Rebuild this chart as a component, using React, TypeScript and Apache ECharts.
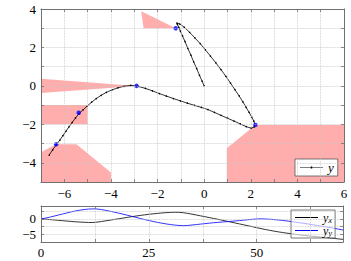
import React, { useEffect, useRef } from 'react';
import * as echarts from 'echarts';

// time steps of the trajectory
const tSteps = [
  0, 1, 2, 3, 4, 5, 6, 7, 8, 9, 10, 11, 12, 13, 14, 15, 16, 17, 18, 19, 20,
  21, 22, 23, 24, 25, 26, 27, 28, 29, 30, 31, 32, 33, 34, 35, 36, 37, 38, 39, 40,
  41, 42, 43, 44, 45, 46, 47, 48, 49, 50, 51, 52, 53, 54, 55, 56, 57, 58, 59, 60,
  61, 62, 63, 64, 65, 66, 67, 68, 69, 70,
];

// y_x component
const yx = [
  0, -0.09, -0.2, -0.32, -0.45, -0.57, -0.7, -0.82, -0.93, -1.02, -1.09, -1.15, -1.17,
  -1.05, -0.85, -0.62, -0.4, -0.17, 0.05, 0.27, 0.5, 0.72, 0.93, 1.13, 1.32, 1.5, 1.66, 1.8, 1.93, 2.04, 2.13, 2.17, 2.15,
  2.02, 1.8, 1.55, 1.28, 1.0, 0.72, 0.44, 0.16, -0.12, -0.42, -0.72, -1.02, -1.32, -1.62, -1.92, -2.22, -2.52, -2.85, -3.15,
  -3.43, -3.7, -3.96, -4.2, -4.42, -4.63, -4.83, -5.02, -5.2, -5.37, -5.52, -5.66, -5.8, -5.93, -6.06, -6.19, -6.35, -6.5, -6.65,
];

// y_y component
const yy = [
  0, 0.25, 0.55, 0.9, 1.25, 1.6, 1.95, 2.3, 2.6, 2.85, 3.05, 3.2, 3.27,
  3.22, 3.05, 2.78, 2.5, 2.2, 1.88, 1.55, 1.2, 0.85, 0.5, 0.15, -0.2, -0.52, -0.83, -1.12, -1.38, -1.62, -1.83, -2.0, -2.13,
  -2.2, -2.12, -1.98, -1.83, -1.68, -1.53, -1.38, -1.23, -1.12, -1.01, -0.9, -0.78, -0.66, -0.53, -0.4, -0.26, -0.13, -0.02, 0.03,
  -0.02, -0.1, -0.21, -0.34, -0.49, -0.66, -0.85, -1.05, -1.25, -1.45, -1.67, -1.9, -2.13, -2.36, -2.59, -2.82, -3.07, -3.33, -3.6,
];

// blue measurement points
const markX = [-1.22, 2.2, -2.9, -5.38, -6.35];
const markY = [3.0, -2.03, 0.0, -1.4, -3.04];

// shaded regions (data coordinates)
const regionTop = [[-2.7, 3.88], [-2.6, 3.0], [-1.22, 3.0]];
const regionWedge = [[-2.9, 0.0], [-7, 0.37], [-7, -0.37]];
const regionRect = [[-7, -1], [-5, -1], [-5, -2], [-7, -2]];
const regionLowLeft = [[-7, -3.45], [-6.35, -3.04], [-5.48, -3.04], [-4, -4.5], [-4, -5], [-7, -5]];
const regionLowRight = [[2.2, -2.03], [6, -2.03], [6, -5], [0.97, -5], [0.97, -3.24]];
const regions = [regionTop, regionWedge, regionRect, regionLowLeft, regionLowRight];

const FONT = 'Liberation Serif';
const fmtNum = (v: number) => String(v).replace('-', '\u2212');

const LINE_ICON = 'path://M0,9 L46,9 L46,11 L0,11 Z';
const LINE_DOT_ICON = 'path://M0,9.4 L46,9.4 L46,10.6 L0,10.6 Z M21.5,8 L24.5,8 L24.5,12 L21.5,12 Z';

export default function App() {
  const ref = useRef<HTMLDivElement>(null);
  useEffect(() => {
    const chart = echarts.init(ref.current!, null, { renderer: 'svg' });
    const axisLine = { show: true, onZero: false, lineStyle: { color: '#707070', width: 1 } };
    const tick = { show: true, inside: true, length: 3, lineStyle: { color: '#707070', width: 0.8 } };
    const split = { show: true, lineStyle: { color: '#c4c4c4', type: 'dotted' as const, width: 0.8 } };
    const label = { color: '#000', fontFamily: FONT, fontSize: 13 };
    const hidden = { show: false };

    chart.setOption({
      animation: false,
      grid: [
        { left: 41, top: 9, width: 303, height: 173 },
        { left: 41, top: 206, width: 302, height: 36 },
      ],
      xAxis: [
        {
          type: 'value', gridIndex: 0, position: 'bottom', min: -7, max: 6, interval: 1,
          axisLine, axisTick: tick, splitLine: split, z: 5,
          axisLabel: { ...label, margin: 5, formatter: (v: number) => (v % 2 === 0 ? fmtNum(v) : '') },
        },
        {
          type: 'value', gridIndex: 0, position: 'top', min: -7, max: 6, interval: 1,
          axisLine, axisTick: tick, splitLine: hidden, axisLabel: hidden, z: 5,
        },
        {
          type: 'value', gridIndex: 1, position: 'bottom', min: 0, max: 70, interval: 12.5,
          axisLine, axisTick: tick, splitLine: split, z: 5,
          axisLabel: { ...label, margin: 4, formatter: (v: number) => (v % 25 === 0 ? fmtNum(v) : '') },
        },
        {
          type: 'value', gridIndex: 1, position: 'top', min: 0, max: 70, interval: 12.5,
          axisLine, axisTick: tick, splitLine: hidden, axisLabel: hidden, z: 5,
        },
      ],
      yAxis: [
        {
          type: 'value', gridIndex: 0, position: 'left', min: -5, max: 4, interval: 1,
          axisLine, axisTick: tick, splitLine: split, z: 5,
          axisLabel: { ...label, margin: 5, formatter: (v: number) => (v % 2 === 0 ? fmtNum(v) : '') },
        },
        {
          type: 'value', gridIndex: 0, position: 'right', min: -5, max: 4, interval: 1,
          axisLine, axisTick: tick, splitLine: hidden, axisLabel: hidden, z: 5,
        },
        {
          type: 'value', gridIndex: 1, position: 'left', min: -7.5, max: 4.2, interval: 2.5,
          axisLine, axisTick: tick, splitLine: split, z: 5,
          axisLabel: { ...label, margin: 5, formatter: (v: number) => (v % 5 === 0 ? fmtNum(v) : '') },
        },
        {
          type: 'value', gridIndex: 1, position: 'right', min: -7.5, max: 4.2, interval: 2.5,
          axisLine, axisTick: tick, splitLine: hidden, axisLabel: hidden, z: 5,
        },
      ],
      legend: [
        {
          data: [{ name: 'y', icon: LINE_DOT_ICON }], left: 295, top: 159, orient: 'horizontal',
          padding: [2, 4, 2, 5], itemWidth: 23, itemHeight: 10, itemGap: 0,
          borderColor: '#555', borderWidth: 0.8, borderRadius: 0, backgroundColor: '#fff',
          textStyle: { fontFamily: FONT, fontStyle: 'italic', fontSize: 13, color: '#000', lineHeight: 13 },
        },
        {
          data: [{ name: 'y_x', icon: LINE_ICON }, { name: 'y_y', icon: LINE_ICON }],
          left: 291, top: 210, orient: 'vertical',
          padding: [1, 3, 1, 4], itemWidth: 23, itemHeight: 10, itemGap: 0,
          borderColor: '#555', borderWidth: 0.8, borderRadius: 0,
          backgroundColor: 'rgba(255,255,255,0.6)',
          formatter: (n: string) => (n === 'y_x' ? '{a|y}{b|x}' : '{a|y}{b|y}'),
          textStyle: {
            color: '#000',
            rich: {
              a: { fontFamily: FONT, fontStyle: 'italic', fontSize: 12, color: '#000', lineHeight: 12 },
              b: { fontFamily: FONT, fontStyle: 'italic', fontSize: 8.5, color: '#000', lineHeight: 8, padding: [4, 0, 0, 0] },
            },
          },
        },
      ],
      series: [
        {
          name: 'regions',
          type: 'custom',
          xAxisIndex: 0,
          yAxisIndex: 0,
          silent: true,
          clip: true,
          z: 1,
          data: regions.map((r) => r[0]),
          renderItem: (params: any, api: any) => {
            const pts = regions[params.dataIndex].map((p) => api.coord(p));
            return {
              type: 'polygon',
              shape: { points: pts },
              style: { fill: 'rgba(255,0,0,0.32)', stroke: 'none' },
            };
          },
        },
        {
          name: 'y',
          type: 'line',
          xAxisIndex: 0,
          yAxisIndex: 0,
          data: yx.map((v, i) => [v, yy[i]]),
          color: '#000',
          lineStyle: { color: '#000', width: 0.8 },
          symbol: 'circle',
          symbolSize: 1.5,
          showSymbol: true,
          itemStyle: { color: '#000' },
          z: 3,
        },
        {
          name: 'marks',
          type: 'scatter',
          xAxisIndex: 0,
          yAxisIndex: 0,
          data: markX.map((v, i) => [v, markY[i]]),
          symbolSize: 4.5,
          itemStyle: { color: '#0000ff' },
          z: 4,
        },
        {
          name: 'y_x',
          type: 'line',
          xAxisIndex: 2,
          yAxisIndex: 2,
          data: tSteps.map((t, i) => [t, yx[i]]),
          color: '#000',
          symbol: 'none',
          lineStyle: { color: '#000', width: 0.8 },
          z: 3,
        },
        {
          name: 'y_y',
          type: 'line',
          xAxisIndex: 2,
          yAxisIndex: 2,
          data: tSteps.map((t, i) => [t, yy[i]]),
          color: '#0000ff',
          symbol: 'none',
          lineStyle: { color: '#0000ff', width: 0.8 },
          z: 3,
        },
      ],
    });
    return () => chart.dispose();
  }, []);
  return <div ref={ref} style={{ position: 'absolute', left: 0, top: 0, width: 351, height: 261 }} />;
}
